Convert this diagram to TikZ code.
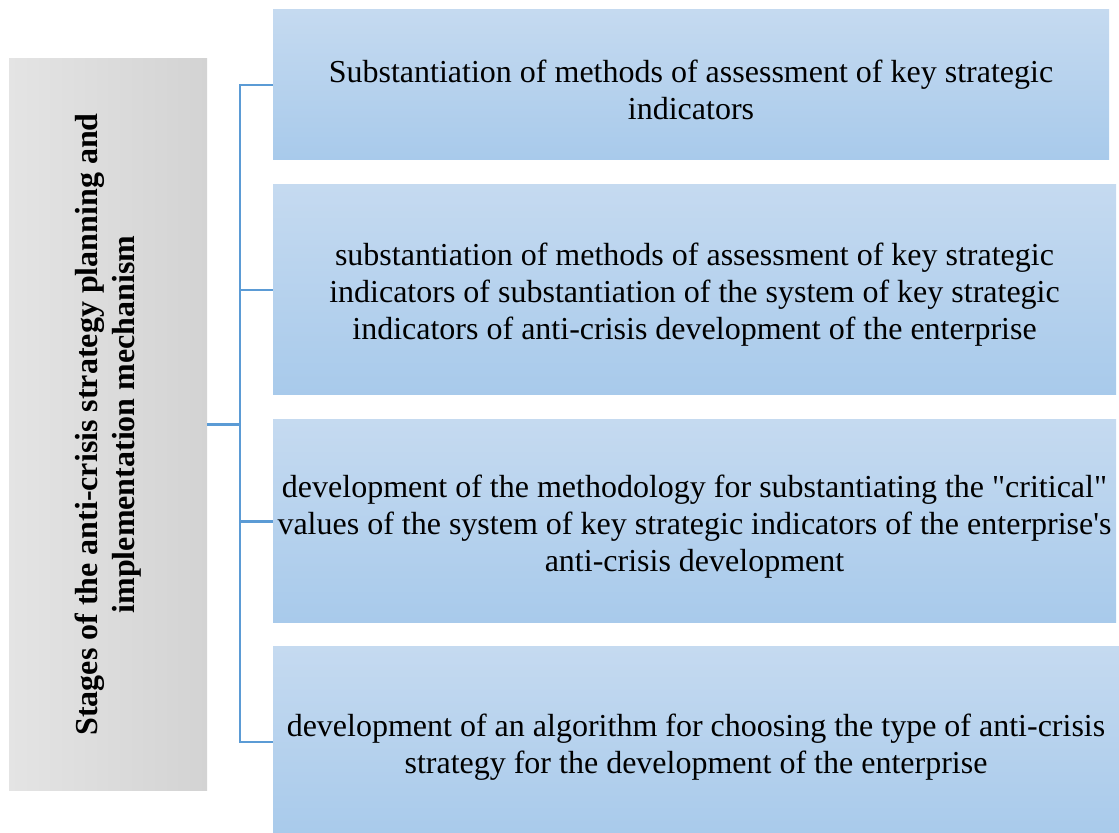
\documentclass[tikz,border=0pt]{standalone}
\usepackage{fontspec}
\setmainfont{Liberation Serif}[Ligatures=TeXOff]
\definecolor{blueTop}{HTML}{C5DAF0}
\definecolor{blueBot}{HTML}{A8CAEB}
\definecolor{greyLeft}{HTML}{E4E4E4}
\definecolor{greyRight}{HTML}{D3D3D3}
\definecolor{linkBlue}{HTML}{5B9BD5}
\tikzset{
  stagebox/.style={top color=blueTop,bottom color=blueBot,inner sep=0pt,
    label={[align=center,yshift=-2.5pt,font=\fontsize{16}{18.5}\selectfont]center:#1}},
  titlebox/.style={rotate=90,left color=greyLeft,right color=greyRight,align=center,inner sep=0pt,
    minimum width=365.5pt,minimum height=99pt,font=\fontsize{16}{18.5}\selectfont\bfseries},
  link/.style={draw=linkBlue,line width=1.25pt,line join=miter}
}
\begin{document}
\begin{tikzpicture}[x=0.5pt,y=-0.5pt]
\useasboundingbox (0,0) rectangle (1119,833);
\pgfmathsetmacro{\sx}{240}
\node[titlebox](title) at (108,424.5){Stages of the anti-crisis strategy planning and\\implementation mechanism};
\node[stagebox={Substantiation of methods of assessment of key strategic\\indicators},
  minimum width=418pt,minimum height=75pt](s1) at (691,85){};
\node[stagebox={substantiation of methods of assessment of key strategic\\indicators of substantiation of the system of key strategic\\indicators of anti-crisis development of the enterprise},
  minimum width=421.5pt,minimum height=105pt](s2) at (694.5,290){};
\node[stagebox={development of the methodology for substantiating the "critical"\\values of the system of key strategic indicators of the enterprise's\\anti-crisis development},
  minimum width=421.5pt,minimum height=101.5pt](s3) at (694.5,521.5){};
\node[stagebox={development of an algorithm for choosing the type of anti-crisis\\strategy for the development of the enterprise},
  minimum width=423pt,minimum height=95pt](s4) at (696,742){};
\coordinate(spine) at (\sx,0);
\draw[link](s1.west)--(s1.west-|spine)--(s4.west-|spine)--(s4.west);
\foreach \n in {s2,s3}\draw[link](\n.west)--(\n.west-|spine);
\draw[link](title.south)--(title.south-|spine);
\end{tikzpicture}
\end{document}
